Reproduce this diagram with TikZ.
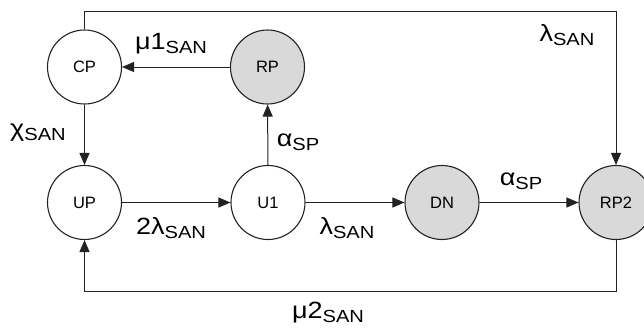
\documentclass[tikz,border=0pt]{standalone}
\usepackage{fontspec}
\setmainfont{Liberation Sans}
\newfontfamily\lblfamily[FakeStretch=1.15]{Liberation Sans}
\usetikzlibrary{arrows.meta}
\definecolor{stategray}{HTML}{D9D9D9}
\definecolor{linecol}{HTML}{222222}
\newcommand{\mylbl}[2]{{\lblfamily\fontsize{23.5}{28}\selectfont #1\raisebox{-4pt}{\fontsize{17.5}{20}\selectfont #2}}}
\tikzset{
  state/.style={circle, draw=linecol, line width=1.1pt, minimum size=74pt, inner sep=0pt,
    font=\fontsize{16.5}{19}\selectfont, fill=white},
  grayst/.style={state, fill=stategray},
  conn/.style={draw=linecol, line width=1pt, -{Triangle[length=12pt,width=10pt]}},
  lbl/.style={inner sep=0pt, text=black}
}
\begin{document}
\begin{tikzpicture}[x=1pt,y=-1pt]
\useasboundingbox (0,0) rectangle (644,327);
\node[state] (CP) at (84.5,67) {CP};
\node[grayst] (RP) at (267.5,67) {RP};
\node[state] (UP) at (84.5,202.5) {UP};
\node[state] (U1) at (268,202.5) {U1};
\node[grayst] (DN) at (442,202.5) {DN};
\node[grayst] (RP2) at (616,202.5) {RP2};
\coordinate (tl) at (84.5,11);
\coordinate (tr) at (616,11);
\coordinate (bl) at (84.5,291);
\coordinate (br) at (616,291);
\draw[conn] (RP) -- (CP);
\draw[conn] (CP) -- (UP);
\draw[conn] (UP) -- (U1);
\draw[conn] (U1) -- (RP);
\draw[conn] (U1) -- (DN);
\draw[conn] (DN) -- (RP2);
\draw[conn] (CP.north) -- (tl) -- (tr) -- (RP2.north);
\draw[conn] (RP2.south) -- (br) -- (bl) -- (UP.south);
\node[lbl] (l1) at (171,44) {\mylbl{μ1}{SAN}};
\node[lbl] (l2) at (38,133) {\mylbl{χ}{SAN}};
\node[lbl] (l3) at (567,35) {\mylbl{λ}{SAN}};
\node[lbl] (l4) at (298,142) {\mylbl{α}{SP}};
\node[lbl] (l5) at (171,228) {\mylbl{2λ}{SAN}};
\node[lbl] (l6) at (347,228) {\mylbl{λ}{SAN}};
\node[lbl] (l7) at (521,181) {\mylbl{α}{SP}};
\node[lbl] (l8) at (328,313) {\mylbl{μ2}{SAN}};
\end{tikzpicture}
\end{document}
